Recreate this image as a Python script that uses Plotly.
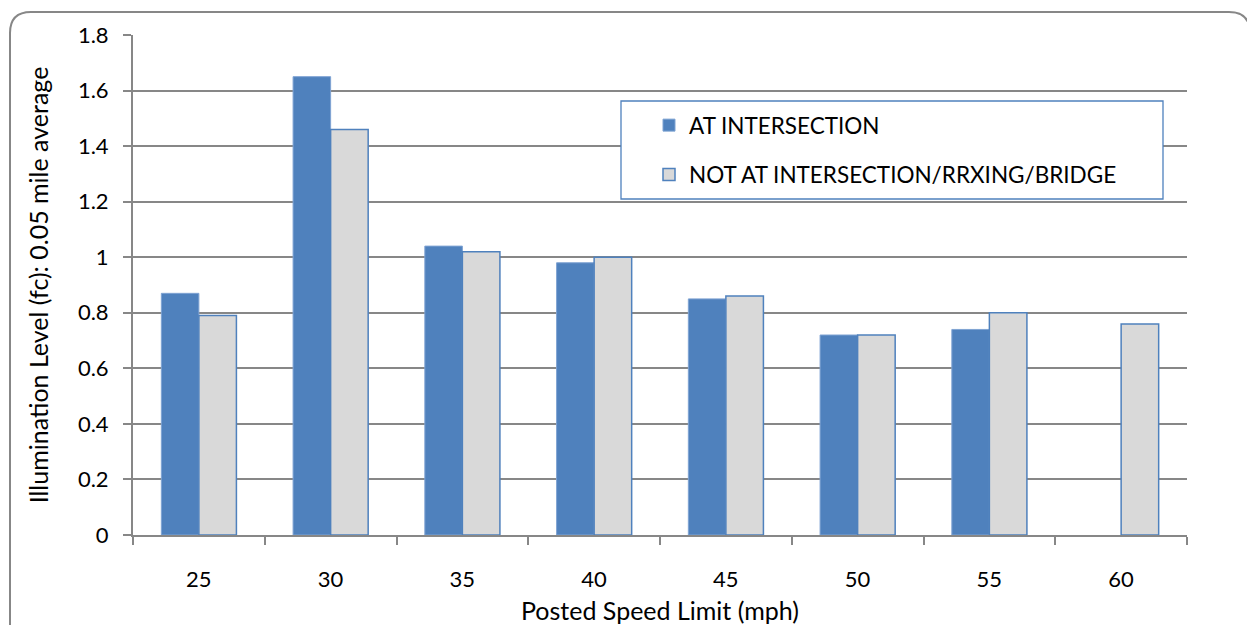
import plotly.graph_objects as go

# Données
speeds = ["25", "30", "35", "40", "45", "50", "55", "60"]
at_intersection = [0.87, 1.65, 1.04, 0.98, 0.85, 0.72, 0.74, None]
not_at_intersection = [0.79, 1.46, 1.02, 1.00, 0.86, 0.72, 0.80, 0.76]

W, H = 1247, 625
L, R, T, B = 133, 60, 35, 90
pw, ph = W - L - R, H - T - B

def px(x):
    return (x - L) / pw

def py(y):
    return (H - B - y) / ph

FONT = "Lato"
GRID = "#878787"
BLUE = "#4F81BD"

fig = go.Figure()
fig.add_trace(go.Bar(
    x=speeds, y=at_intersection, name="AT INTERSECTION",
    marker=dict(color=BLUE, line=dict(color="#7FA3D3", width=1)),
    legendgroup="a",
))
fig.add_trace(go.Bar(
    x=speeds, y=not_at_intersection, name="NOT AT INTERSECTION/RRXING/BRIDGE",
    marker=dict(color="#D9D9D9", line=dict(color=BLUE, width=1.5)),
    legendgroup="b",
))

# cadre arrondi autour du graphique
r = 21
x0, x1, y0, y1 = 10, 1250, 12, 660
path = (
    f"M {px(x0)},{py(y1)} L {px(x0)},{py(y0 + r)} "
    f"Q {px(x0)},{py(y0)} {px(x0 + r)},{py(y0)} "
    f"L {px(x1 - r)},{py(y0)} Q {px(x1)},{py(y0)} {px(x1)},{py(y0 + r)} "
    f"L {px(x1)},{py(y1)}"
)

fig.update_layout(
    width=W, height=H,
    margin=dict(l=L, r=R, t=T, b=B),
    paper_bgcolor="white", plot_bgcolor="white",
    font=dict(family=FONT, size=22, color="black"),
    barmode="group", bargap=0.43, bargroupgap=0,
    showlegend=True,
    legend=dict(
        x=px(649), y=py(104), xanchor="left", yanchor="top",
        bgcolor="rgba(0,0,0,0)", borderwidth=0,
        font=dict(family=FONT, size=22.5),
        tracegroupgap=17,
    ),
    shapes=[
        dict(type="path", path=path, xref="paper", yref="paper",
             line=dict(color=GRID, width=2), layer="above"),
        dict(type="rect", xref="paper", yref="paper",
             x0=px(621), x1=px(1163), y0=py(199), y1=py(101),
             line=dict(color=BLUE, width=1.3), fillcolor="white", layer="above"),
    ],
    xaxis=dict(
        type="category", showline=True, linecolor=GRID, linewidth=2,
        ticks="outside", tickson="boundaries", ticklen=8, tickcolor=GRID, tickwidth=2,
        ticklabelstandoff=24, showgrid=False, automargin=False,
        title=dict(text="Posted Speed Limit (mph)", standoff=14, font=dict(size=25)),
    ),
    yaxis=dict(
        range=[0, 1.8], dtick=0.2, showline=True, linecolor=GRID, linewidth=2,
        ticks="outside", ticklen=8, tickcolor=GRID, tickwidth=2, ticklabelstandoff=10,
        showgrid=True, gridcolor=GRID, gridwidth=1.5, zeroline=False, automargin=False,
        title=dict(text="Illumination Level (fc): 0.05 mile average", standoff=22, font=dict(size=25)),
    ),
)

fig.write_html("out.html", config={"displayModeBar": False},
               post_script="document.body.style.margin = '0px';")
